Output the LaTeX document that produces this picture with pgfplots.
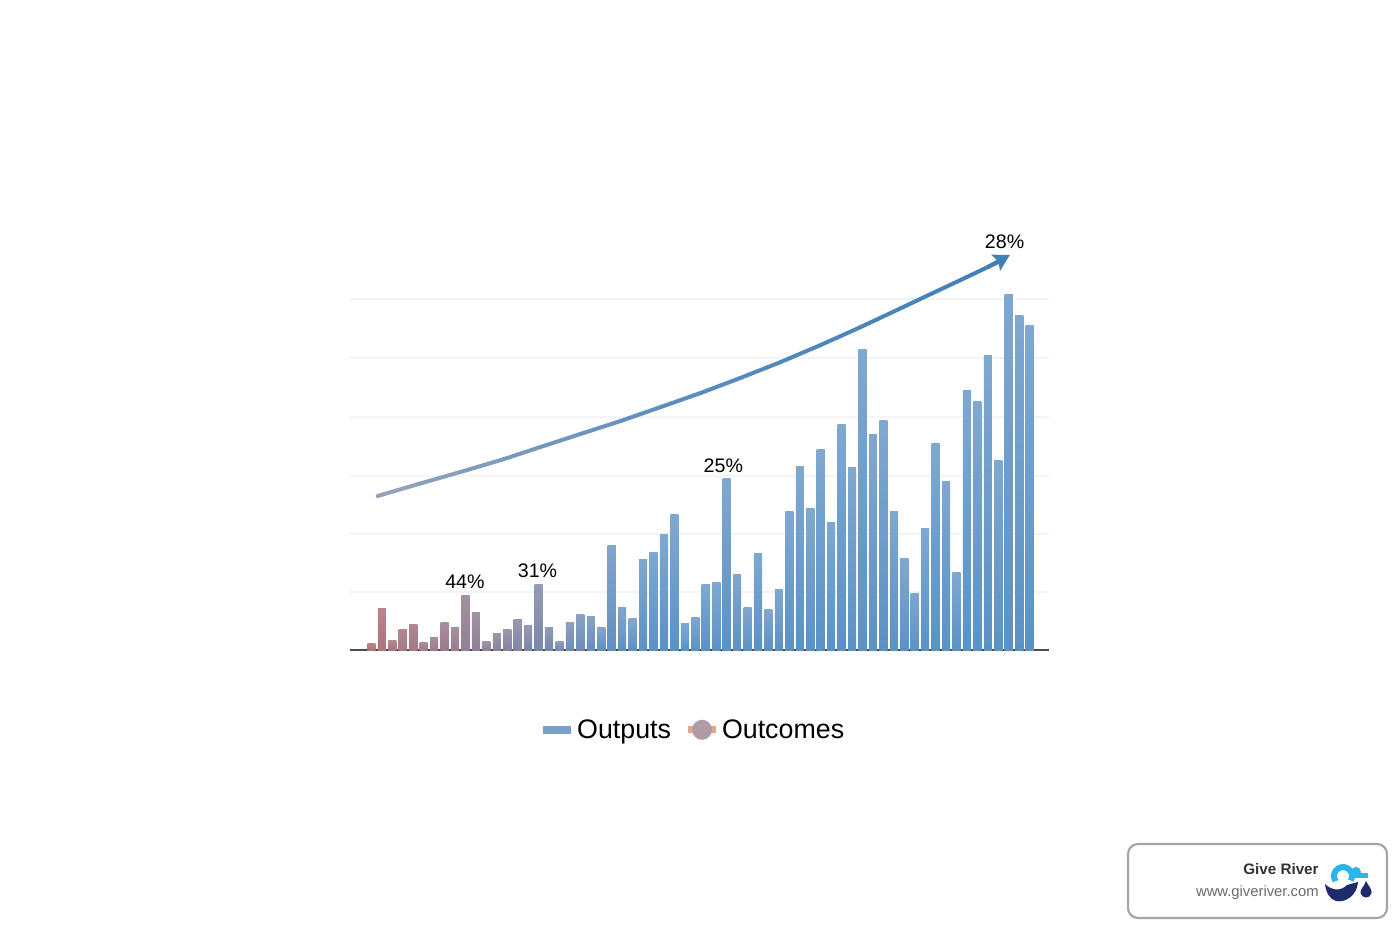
\documentclass[border=0pt]{standalone}
\usepackage{fontspec}
\setmainfont{Liberation Sans}
\usepackage{pgfplots}
\pgfplotsset{compat=1.18}
\usetikzlibrary{arrows.meta}
\definecolor{redT}{HTML}{BB8288}
\definecolor{redB}{HTML}{B07478}
\definecolor{blueT}{HTML}{7FA8D0}
\definecolor{blueB}{HTML}{5A92C6}
\definecolor{gridc}{HTML}{F4F4F4}
\definecolor{navy}{HTML}{1F2A6B}
\definecolor{cyanl}{HTML}{2DB4EA}
\definecolor{arrowc}{HTML}{3F80B8}
\definecolor{legb}{HTML}{7A9FC8}
\definecolor{lego}{HTML}{E8A58C}
\definecolor{legc}{HTML}{B09AA8}
\pgfplotsset{bb/.style={ybar,bar width=4.05pt,bar shift=0pt,draw=none,top color=blueT!#1!redT,bottom color=blueB!#1!redB,forget plot}}
\begin{document}
\begin{tikzpicture}
\path[use as bounding box] (-175pt,-141.5pt) rectangle (525pt,325pt);
\begin{axis}[
  at={(0,0)},anchor=south west,
  scale only axis,width=349.5pt,height=175.5pt,
  xmin=-2.05,xmax=64.85,ymin=0,ymax=351,
  clip=false,
  axis lines*=left,
  x axis line style={draw=black!70,line width=0.75pt},
  y axis line style={draw=none},
  xtick=\empty,
  ytick={58,116,174,233,292,351},
  yticklabels={},
  tick style={draw=none},
  ymajorgrids,
  major grid style={draw=gridc,line width=0.6pt},
  point meta min=0,point meta max=61,
  colormap={arr}{rgb255=(150,166,186) rgb255=(90,140,190) rgb255=(63,128,184)},
  legend style={at={(0.4945,-0.2307)},anchor=center,draw=none,fill=none,
    font=\fontsize{13.4pt}{15pt}\selectfont,legend columns=2,
    /tikz/every odd column/.append style={column sep=1pt},
    /tikz/every even column/.append style={column sep=6.5pt},
    inner sep=0pt},
]
\addlegendimage{legend image code/.code={\fill[draw=none,fill=legb] (0pt,-1.5pt) rectangle (14pt,2.7pt);}}
\addlegendentry{Outputs}
\addlegendimage{legend image code/.code={\fill[draw=none,fill=lego] (0pt,-1.2pt) rectangle (14pt,2.4pt);\fill[draw=none,fill=legc] (7pt,0.6pt) circle (5pt);}}
\addlegendentry{Outcomes}
\addplot[bb=0] coordinates {(0,6.7)};
\addplot[bb=4] coordinates {(1,41.7)};
\addplot[bb=8] coordinates {(2,9.3)};
\addplot[bb=12] coordinates {(3,20.7)};
\addplot[bb=16] coordinates {(4,25.7)};
\addplot[bb=20] coordinates {(5,7.7)};
\addplot[bb=24] coordinates {(6,12.7)};
\addplot[bb=28] coordinates {(7,27.7)};
\addplot[bb=32] coordinates {(8,22.3)};
\addplot[bb=36] coordinates {(9,54.7)};
\addplot[bb=40] coordinates {(10,37.7)};
\addplot[bb=44] coordinates {(11,8.7)};
\addplot[bb=48] coordinates {(12,16.7)};
\addplot[bb=52] coordinates {(13,20.7)};
\addplot[bb=56] coordinates {(14,30.3)};
\addplot[bb=60] coordinates {(15,24.3)};
\addplot[bb=64] coordinates {(16,66)};
\addplot[bb=68] coordinates {(17,23)};
\addplot[bb=72] coordinates {(18,9)};
\addplot[bb=76] coordinates {(19,27.3)};
\addplot[bb=80] coordinates {(20,35.7)};
\addplot[bb=84] coordinates {(21,33.3)};
\addplot[bb=88] coordinates {(22,23)};
\addplot[bb=92] coordinates {(23,104.3)};
\addplot[bb=96] coordinates {(24,43)};
\addplot[bb=100] coordinates {(25,31.7)};
\addplot[bb=100] coordinates {(26,90.7)};
\addplot[bb=100] coordinates {(27,97.7)};
\addplot[bb=100] coordinates {(28,115.3)};
\addplot[bb=100] coordinates {(29,136)};
\addplot[bb=100] coordinates {(30,26.3)};
\addplot[bb=100] coordinates {(31,32.7)};
\addplot[bb=100] coordinates {(32,66)};
\addplot[bb=100] coordinates {(33,67.7)};
\addplot[bb=100] coordinates {(34,172)};
\addplot[bb=100] coordinates {(35,76)};
\addplot[bb=100] coordinates {(36,42.7)};
\addplot[bb=100] coordinates {(37,96.7)};
\addplot[bb=100] coordinates {(38,40.7)};
\addplot[bb=100] coordinates {(39,61)};
\addplot[bb=100] coordinates {(40,138.3)};
\addplot[bb=100] coordinates {(41,183.3)};
\addplot[bb=100] coordinates {(42,141.7)};
\addplot[bb=100] coordinates {(43,200.3)};
\addplot[bb=100] coordinates {(44,127.3)};
\addplot[bb=100] coordinates {(45,225.3)};
\addplot[bb=100] coordinates {(46,182.3)};
\addplot[bb=100] coordinates {(47,300.7)};
\addplot[bb=100] coordinates {(48,216)};
\addplot[bb=100] coordinates {(49,229.3)};
\addplot[bb=100] coordinates {(50,139)};
\addplot[bb=100] coordinates {(51,91.7)};
\addplot[bb=100] coordinates {(52,57)};
\addplot[bb=100] coordinates {(53,121.7)};
\addplot[bb=100] coordinates {(54,206.7)};
\addplot[bb=100] coordinates {(55,168.3)};
\addplot[bb=100] coordinates {(56,77.7)};
\addplot[bb=100] coordinates {(57,260)};
\addplot[bb=100] coordinates {(58,249)};
\addplot[bb=100] coordinates {(59,295)};
\addplot[bb=100] coordinates {(60,189.3)};
\addplot[bb=100] coordinates {(61,356)};
\addplot[bb=100] coordinates {(62,334.7)};
\addplot[bb=100] coordinates {(63,325)};
\addplot[mesh,forget plot,point meta=x,line width=2pt,line cap=round]
  coordinates {(0.6,154)(4.5,166)(8.52,178)(12.4,190)(16.19,203)(20,216)(23.85,229)(27.7,243)(31.51,257)(35.3,272)(39.18,288)(43,305)(46.84,323)(50.3,340)(53.54,356)(57,373)(60,388)};
\addplot[forget plot,draw=arrowc,line width=2pt,-{Stealth[length=8pt,width=9pt,inset=1.5pt]}]
  coordinates {(59,383)(61.1,395)};
\node[font=\fontsize{9.8pt}{12pt}\selectfont] at (axis cs:8.95,68) {44\%};
\node[font=\fontsize{9.8pt}{12pt}\selectfont] at (axis cs:15.9,79) {31\%};
\node[font=\fontsize{9.8pt}{12pt}\selectfont] at (axis cs:33.68,184.5) {25\%};
\node[font=\fontsize{9.8pt}{12pt}\selectfont] at (axis cs:60.6,408) {28\%};
\end{axis}
\begin{scope}[shift={(-175pt,325pt)},x=0.5pt,y=-0.5pt]
\draw[draw=black!35,line width=1.1pt,rounded corners=5pt,fill=white] (1128,844) rectangle (1387,918);
\node[anchor=east,font=\bfseries\fontsize{7.6pt}{10pt}\selectfont,text=black!80,inner sep=0pt] at (1319,869.5) {Give River};
\node[anchor=east,font=\fontsize{7.4pt}{10pt}\selectfont,text=black!58,inner sep=0pt] at (1319,892.5) {www.giveriver.com};
% logo
\draw[cyanl,line width=3pt] (1335.6,881.2) arc[start angle=145,end angle=390,radius=9];
\fill[cyanl] (1356,872) circle[radius=5];
\fill[cyanl] (1350,873) rectangle (1368,878);
\fill[navy] (1325,884) .. controls (1331,890) and (1340,892) .. (1347,885) -- (1358,882) .. controls (1357,895) and (1346,903) .. (1336,901) .. controls (1329,899) and (1326,892) .. (1325,884) -- cycle;
\fill[navy] (1366,881) .. controls (1369,887) and (1372,889) .. (1371.5,893) .. controls (1370.5,899) and (1361.5,899) .. (1360.5,893) .. controls (1360,889) and (1364,887) .. (1366,881) -- cycle;
\end{scope}
\end{tikzpicture}
\end{document}
